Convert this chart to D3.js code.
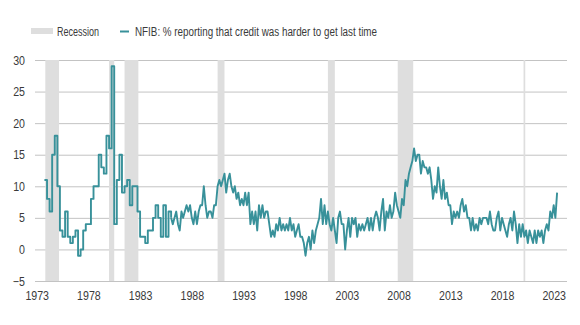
<!DOCTYPE html>
<html>
<head>
<meta charset="utf-8">
<script src="https://cdn.jsdelivr.net/npm/d3@7"></script>
<style>
body{margin:0;background:#fff}
text{font-family:"Liberation Sans Narrow","Arial Narrow","Liberation Sans",sans-serif;fill:#3a3a3a}
</style>
</head>
<body>
<script>
// recessions (start, end month)
var recessions = [["1973-11","1975-03"],["1980-01","1980-07"],["1981-07","1982-11"],
  ["1990-07","1991-03"],["2001-03","2001-11"],["2007-12","2009-06"],["2020-02","2020-04"]];

// quarterly survey, Q4 1973 .. Q4 1985
var qStart = "1973-10";
var qValues = [11, 8,6,15,18, 10,3,2,6, 2,1,2,3, -1,0,3,4, 4,8,10,10, 15,13,12,18,
  16,29,4,11, 15,9,10,11, 7,10,10,6, 2,2,1,3, 3,5,7,5, 2,7,2,6];

// monthly survey read every 2 months, Jan 1986 .. May 2023
var mStart = "1986-01";
var mValues = [
  5,4,5,6,4,3,   6,5,6,7,6,7,   5,4,6,4,6,7,   7,10,7,5,6,6,  5,7,7,10,11,10,
  11,12,9,11,12,10, 9,10,8,9,7,8, 7,9,7,9,4,6,  4,6,3,7,5,7,   5,6,6,4,2,3,
  2,4,3,5,3,4,   3,4,3,5,3,4,   2,3,4,2,2,1,   -1,1,2,0,3,1,  3,4,5,8,4,7,
  4,6,4,3,5,3,   1,5,6,4,4,0,   3,5,2,5,4,5,   2,4,3,4,3,4,   5,3,5,3,5,6,
  5,3,6,8,3,6,   5,7,5,6,9,7,   6,5,8,7,11,10, 12,13,14,16,14,15, 15,12,14,13,13,12,
  13,11,8,10,9,13, 10,8,11,8,9,7, 7,4,6,5,6,5,  7,8,6,7,5,5,   3,5,3,4,3,5,
  4,5,5,5,4,6,   4,3,3,5,6,3,   5,4,3,2,4,5,   3,6,4,1,4,2,   4,2,3,1,3,2,
  1,3,1,3,2,3,   1,3,4,3,6,5,   7,5,9];

var yTicks = [-5,0,5,10,15,20,25,30];
var xTicks = ["1973","1978","1983","1988","1993","1998","2003","2008","2013","2018","2023"];

var lineColor = "#38919a";
var parse = d3.timeParse("%Y-%m");

var qData = qValues.map(function(v,i){ return {date: d3.timeMonth.offset(parse(qStart), 3*i), value: v}; });
var mData = mValues.map(function(v,i){ return {date: d3.timeMonth.offset(parse(mStart), 2*i), value: v}; });
// quarterly steps run up to the first monthly reading
qData.push(mData[0]);

var svg = d3.select("body").append("svg").attr("width",580).attr("height",325);

var left = 35, right = 567;
var x = d3.scaleTime().domain([parse("1973-01"), parse("2023-01")]).range([36.7, 553.7]);
var y = d3.scaleLinear().domain([-5,30]).range([281,60]);

// squeeze text to look like the condensed face of the original
function condense(sel, k){
  sel.each(function(){
    var w = this.getComputedTextLength();
    d3.select(this).attr("textLength", w*k).attr("lengthAdjust","spacingAndGlyphs");
  });
}

// y grid + labels
var yAxis = svg.append("g").attr("transform","translate(" + left + ",0)")
  .call(d3.axisLeft(y).tickValues(yTicks).tickSize(-(right-left)).tickPadding(10));
yAxis.select(".domain").remove();
yAxis.selectAll("line").attr("stroke","#c3c3c3");
yAxis.selectAll("text").style("font-size","12.5px").attr("fill","#3a3a3a").call(condense, 0.85);

// x labels
var xAxis = svg.append("g").attr("transform","translate(0,281)")
  .call(d3.axisBottom(x).tickValues(xTicks.map(function(d){ return parse(d + "-01"); }))
    .tickSize(0).tickPadding(10).tickFormat(d3.timeFormat("%Y")));
xAxis.select(".domain").remove();
xAxis.selectAll("text").style("font-size","12.5px").attr("fill","#3a3a3a").call(condense, 0.85);

// recession bands
svg.append("g").selectAll("rect").data(recessions).enter().append("rect")
  .attr("x", function(d){ return x(parse(d[0])); })
  .attr("width", function(d){ return Math.max(1.5, x(parse(d[1])) - x(parse(d[0]))); })
  .attr("y", y(30)).attr("height", y(-5) - y(30))
  .attr("fill","#dedede");

var stepLine = d3.line().x(function(d){ return x(d.date); }).y(function(d){ return y(d.value); }).curve(d3.curveStepAfter);
var line = d3.line().x(function(d){ return x(d.date); }).y(function(d){ return y(d.value); });

svg.append("path").datum(qData).attr("d", stepLine)
  .attr("fill","none").attr("stroke",lineColor).attr("stroke-width",1.9).attr("stroke-linejoin","round");
svg.append("path").datum(mData).attr("d", line)
  .attr("fill","none").attr("stroke",lineColor).attr("stroke-width",1.9).attr("stroke-linejoin","round");

// legend
svg.append("rect").attr("x",31).attr("y",28).attr("width",22).attr("height",6).attr("fill","#dedede");
svg.append("text").attr("x",57).attr("y",36).style("font-size","12.5px")
  .attr("textLength",42).attr("lengthAdjust","spacingAndGlyphs").text("Recession");
svg.append("line").attr("x1",120).attr("x2",129).attr("y1",31.5).attr("y2",31.5)
  .attr("stroke",lineColor).attr("stroke-width",2);
svg.append("text").attr("x",135).attr("y",36).style("font-size","12.5px")
  .attr("textLength",242).attr("lengthAdjust","spacingAndGlyphs")
  .text("NFIB: % reporting that credit was harder to get last time");
</script>
</body>
</html>
